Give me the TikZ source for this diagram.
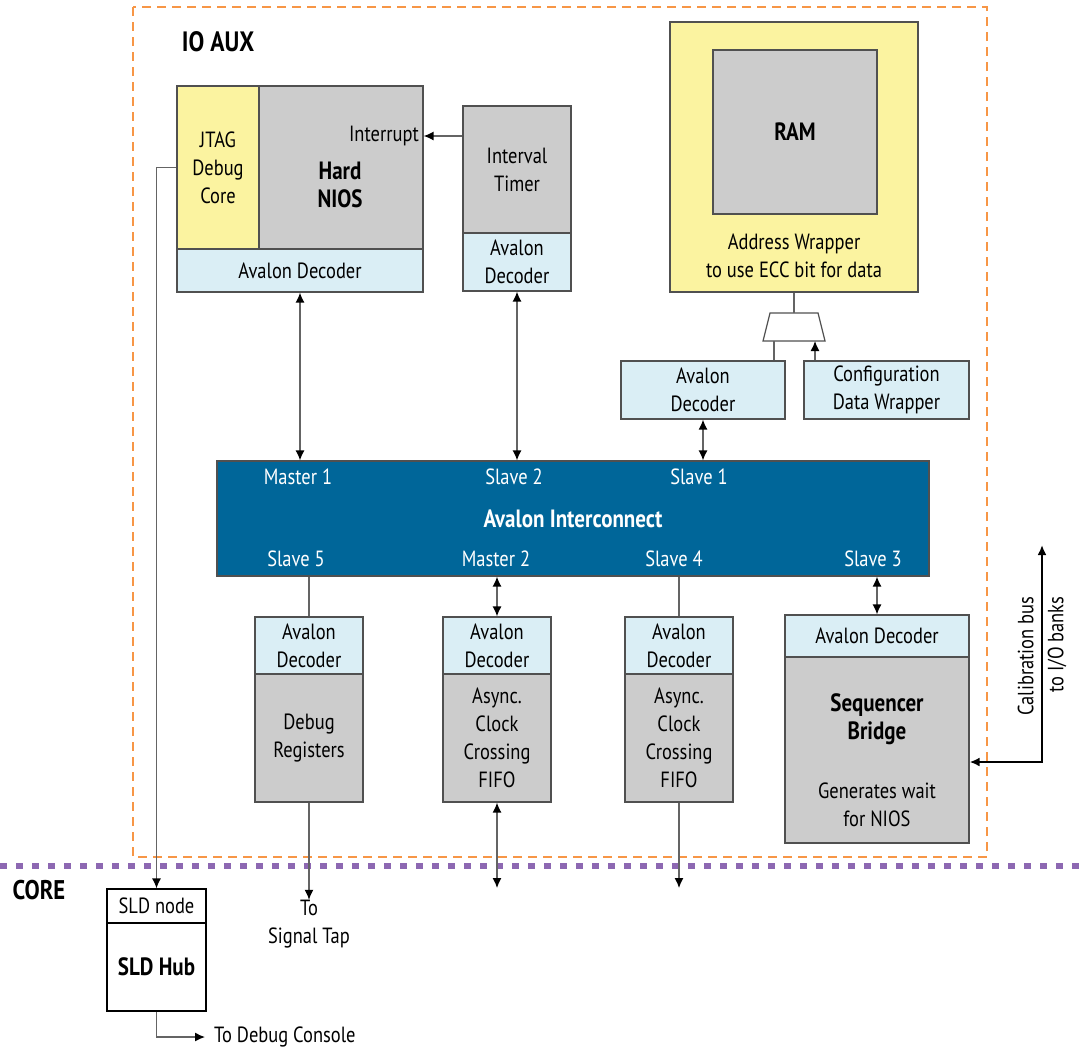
\documentclass[tikz,border=0pt]{standalone}
\usepackage{fontspec}
\setmainfont{PT Sans}[FakeStretch=0.84]
\usepackage{tikz}
\usetikzlibrary{arrows.meta,positioning}

\definecolor{ioorange}{RGB}{247,150,70}
\definecolor{corepurple}{RGB}{141,104,178}
\definecolor{decblue}{RGB}{218,238,245}
\definecolor{blockgray}{RGB}{204,204,204}
\definecolor{wrapyellow}{RGB}{251,243,160}
\definecolor{busblue}{RGB}{0,102,153}
\definecolor{boxline}{RGB}{80,80,80}
\definecolor{linkgray}{RGB}{100,100,100}

\begin{document}
\begin{tikzpicture}[x=1pt, y=-1pt, >={Latex[length=10pt,width=9pt,color=black]},
    every node/.style={font=\fontsize{22}{28}\selectfont, inner sep=0pt, align=center},
    blk/.style={draw=boxline, line width=1.2pt},
    decbox/.style={blk, fill=decblue},
    graybox/.style={blk, fill=blockgray},
    yelbox/.style={blk, fill=wrapyellow},
    boldlbl/.style={font=\fontsize{25}{28}\selectfont\bfseries},
    portlbl/.style={text=white},
    link/.style={draw=linkgray, line width=1.3pt}]
        \useasboundingbox (0,0) rectangle (1086,1050);

        % IO AUX area and core boundary
        \draw[ioorange, line width=2.8pt, dash pattern=on 9pt off 6pt] (133,7) rectangle (987,857);
        \node[font=\fontsize{28}{30}\selectfont\bfseries] (ioaux) at (218,42) {IO AUX};
        \draw[corepurple, line width=6pt, dash pattern=on 7pt off 9pt] (0,866) -- (1086,866);
        \node[font=\fontsize{27}{30}\selectfont\bfseries] (core) at (39,890) {CORE};

        % Hard NIOS
        \node[yelbox, minimum width=82pt, minimum height=163pt] (jtag) at (218,167.5) {JTAG\\Debug\\Core};
        \node[graybox, minimum width=164pt, minimum height=163pt] (nios) at (341,167.5) {};
        \node[boldlbl] (nioslbl) at (340,185) {Hard\\NIOS};
        \node[anchor=east] (intr) at (419,136) {Interrupt};
        \node[decbox, minimum width=246pt, minimum height=43pt] (niosdec) at (300,270.5) {Avalon Decoder};

        % Interval timer
        \node[graybox, minimum width=108pt, minimum height=128pt] (timer) at (517,170) {Interval\\Timer};
        \node[decbox, minimum width=108pt, minimum height=58pt] (timerdec) at (517,262) {Avalon\\Decoder};

        % RAM with wrapper and mux
        \node[yelbox, minimum width=248pt, minimum height=270pt] (wrapper) at (794,157) {};
        \node[graybox, minimum width=164pt, minimum height=164pt, boldlbl] (ram) at (795,132) {RAM};
        \node (wraplbl) at (794,256) {Address Wrapper\\to use ECC bit for data};
        \coordinate (muxtop) at (794,313);
        \coordinate (muxbot) at (794,341);
        \draw[blk, fill=white] (770,313) -- (818,313) -- (825,341) -- (763,341) -- cycle;
        \node[decbox, minimum width=164pt, minimum height=58pt] (avdec) at (703,390) {Avalon\\Decoder};
        \node[decbox, minimum width=165pt, minimum height=58pt] (cfg) at (886.5,390) {Configuration\\Data Wrapper};

        % Interconnect
        \node[blk, fill=busblue, minimum width=712pt, minimum height=115pt, boldlbl, text=white] (bus) at (573,518.5) {Avalon Interconnect};
        \foreach \nm/\lbl/\x/\y in {m1/Master 1/298/477, s2/Slave 2/514/477, s1/Slave 1/699/477,
                                    s5/Slave 5/296/559, m2/Master 2/496/559, s4/Slave 4/674/559, s3/Slave 3/873/559}
            \node[portlbl] (\nm) at (\x,\y) {\lbl};

        % Lower blocks
        \node[decbox, minimum width=108pt, minimum height=57pt] (dbgdec) at (309,645.5) {Avalon\\Decoder};
        \node[graybox, minimum width=108pt, minimum height=128pt] (dbg) at (309,738) {Debug\\Registers};
        \node[decbox, minimum width=108pt, minimum height=57pt] (fifoadec) at (497,645.5) {Avalon\\Decoder};
        \node[graybox, minimum width=108pt, minimum height=128pt] (fifoa) at (497,738) {Async.\\Clock\\Crossing\\FIFO};
        \node[decbox, minimum width=108pt, minimum height=57pt] (fifobdec) at (679,645.5) {Avalon\\Decoder};
        \node[graybox, minimum width=108pt, minimum height=128pt] (fifob) at (679,738) {Async.\\Clock\\Crossing\\FIFO};
        \node[decbox, minimum width=184pt, minimum height=42pt] (seqdec) at (877,636) {Avalon Decoder};
        \node[graybox, minimum width=184pt, minimum height=186pt] (seq) at (877,750) {};
        \node[boldlbl] (seqlbl) at (877,719) {Sequencer\\Bridge};
        \node (seqwait) at (877,805) {Generates wait\\for NIOS};

        % Core side
        \node[blk, draw=black, fill=white, minimum width=99pt, minimum height=34pt] (sldnode) at (156.5,906) {SLD node};
        \node[blk, draw=black, fill=white, minimum width=99pt, minimum height=88pt, boldlbl] (sldhub) at (156.5,967) {SLD Hub};
        \node (tosig) at (309,924) {To\\Signal Tap};
        \node[anchor=west, inner xsep=9pt] (dbgcon) at (205,1037) {To Debug Console};
        \coordinate (fifoaout) at (497,888);
        \coordinate (fifobout) at (679,888);
        \coordinate (calbus) at (1042,545);
        \node[rotate=90, align=right, font=\fontsize{22}{30}\selectfont] (callbl) at (1042,656) {Calibration bus\\to I/O banks};

        % connectors
        \draw[link, ->] (timer.west |- intr.east) -- (nios.east |- intr.east);
        \draw[link] (wrapper.south) -- (muxtop);
        \draw[link] ([xshift=-20pt]muxbot) -- ([xshift=-20pt]muxbot |- avdec.north);
        \draw[link, <-] ([xshift=21pt]muxbot) -- ([xshift=21pt]muxbot |- cfg.north);
        \draw[link, <->] (niosdec.south) -- (niosdec.south |- bus.north);
        \draw[link, <->] (timerdec.south) -- (timerdec.south |- bus.north);
        \draw[link, <->] (avdec.south) -- (avdec.south |- bus.north);
        \draw[link] (dbgdec.north |- bus.south) -- (dbgdec.north);
        \draw[link, <->] (fifoadec.north |- bus.south) -- (fifoadec.north);
        \draw[link] (fifobdec.north |- bus.south) -- (fifobdec.north);
        \draw[link, <->] (seqdec.north |- bus.south) -- (seqdec.north);
        \draw[link, ->] (dbg.south) -- (tosig.north);
        \draw[link, <->] (fifoa.south) -- (fifoaout);
        \draw[link, ->] (fifob.south) -- (fifobout);
        \draw[draw=black, line width=2.4pt, <->] (calbus) |- ([yshift=-12pt]seq.east);
        \draw[link, ->] (jtag.west) -| (sldnode.north);
        \draw[link, ->] (sldhub.south) |- (dbgcon.west);
\end{tikzpicture}
\end{document}
